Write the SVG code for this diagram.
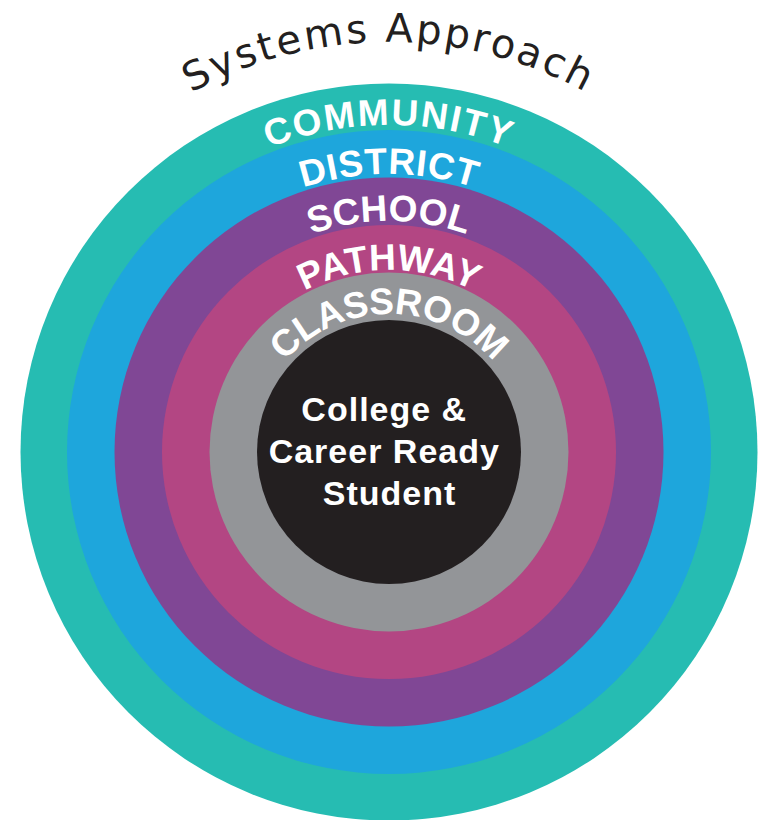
<svg xmlns="http://www.w3.org/2000/svg" xmlns:xlink="http://www.w3.org/1999/xlink" width="758" height="820" viewBox="0 0 758 820">
  <style>
    .lbl { font-family: "Liberation Sans", Arial, sans-serif; font-weight: bold; font-size: 37px; fill: #ffffff; }
    .title { font-family: "DejaVu Sans", "Liberation Sans", sans-serif; font-size: 40px; fill: #231F20; letter-spacing: 2.5px; }
    .core { font-family: "Liberation Sans", Arial, sans-serif; font-weight: bold; font-size: 34px; fill: #ffffff; letter-spacing: 1px; }
  </style>
  <defs>
    <path id="pTitle" d="M -21 452 A 410 410 0 0 1 799 452"/>
    <path id="pCommunity" d="M 62 452 A 327 327 0 0 1 716 452"/>
    <path id="pDistrict" d="M 111 452 A 278 278 0 0 1 667 452"/>
    <path id="pSchool" d="M 158 452 A 231 231 0 0 1 620 452"/>
    <path id="pPathway" d="M 207 452 A 182 182 0 0 1 571 452"/>
    <path id="pClassroom" d="M 251 452 A 138 138 0 0 1 527 452"/>
  </defs>
  <g id="title">
    <text class="title" text-anchor="middle"><textPath href="#pTitle" xlink:href="#pTitle" startOffset="50%">Systems Approach</textPath></text>
  </g>
  <g id="community">
    <circle cx="389" cy="452" r="368.5" fill="#26BCB2"/>
    <text class="lbl" text-anchor="middle" style="letter-spacing:2px"><textPath href="#pCommunity" xlink:href="#pCommunity" startOffset="50%">COMMUNITY</textPath></text>
  </g>
  <g id="district">
    <circle cx="389" cy="452" r="322" fill="#1EA6DC"/>
    <text class="lbl" text-anchor="middle" style="letter-spacing:0.5px"><textPath href="#pDistrict" xlink:href="#pDistrict" startOffset="50%">DISTRICT</textPath></text>
  </g>
  <g id="school">
    <circle cx="389" cy="452" r="274.5" fill="#804795"/>
    <text class="lbl" text-anchor="middle"><textPath href="#pSchool" xlink:href="#pSchool" startOffset="50%">SCHOOL</textPath></text>
  </g>
  <g id="pathway">
    <circle cx="389" cy="452" r="227" fill="#B34683"/>
    <text class="lbl" text-anchor="middle"><textPath href="#pPathway" xlink:href="#pPathway" startOffset="50%">PATHWAY</textPath></text>
  </g>
  <g id="classroom">
    <circle cx="389" cy="452" r="179.5" fill="#939598"/>
    <text class="lbl" text-anchor="middle" style="letter-spacing:-0.5px"><textPath href="#pClassroom" xlink:href="#pClassroom" startOffset="50%">CLASSROOM</textPath></text>
  </g>
  <g id="student">
    <circle cx="389" cy="452" r="132" fill="#231F20"/>
    <text class="core" text-anchor="middle">
      <tspan x="389.5" y="421">College &amp;</tspan>
      <tspan x="389.5" y="463">Career Ready</tspan>
      <tspan x="389.5" y="505">Student</tspan>
    </text>
  </g>
  <g id="connectors"/>
</svg>
